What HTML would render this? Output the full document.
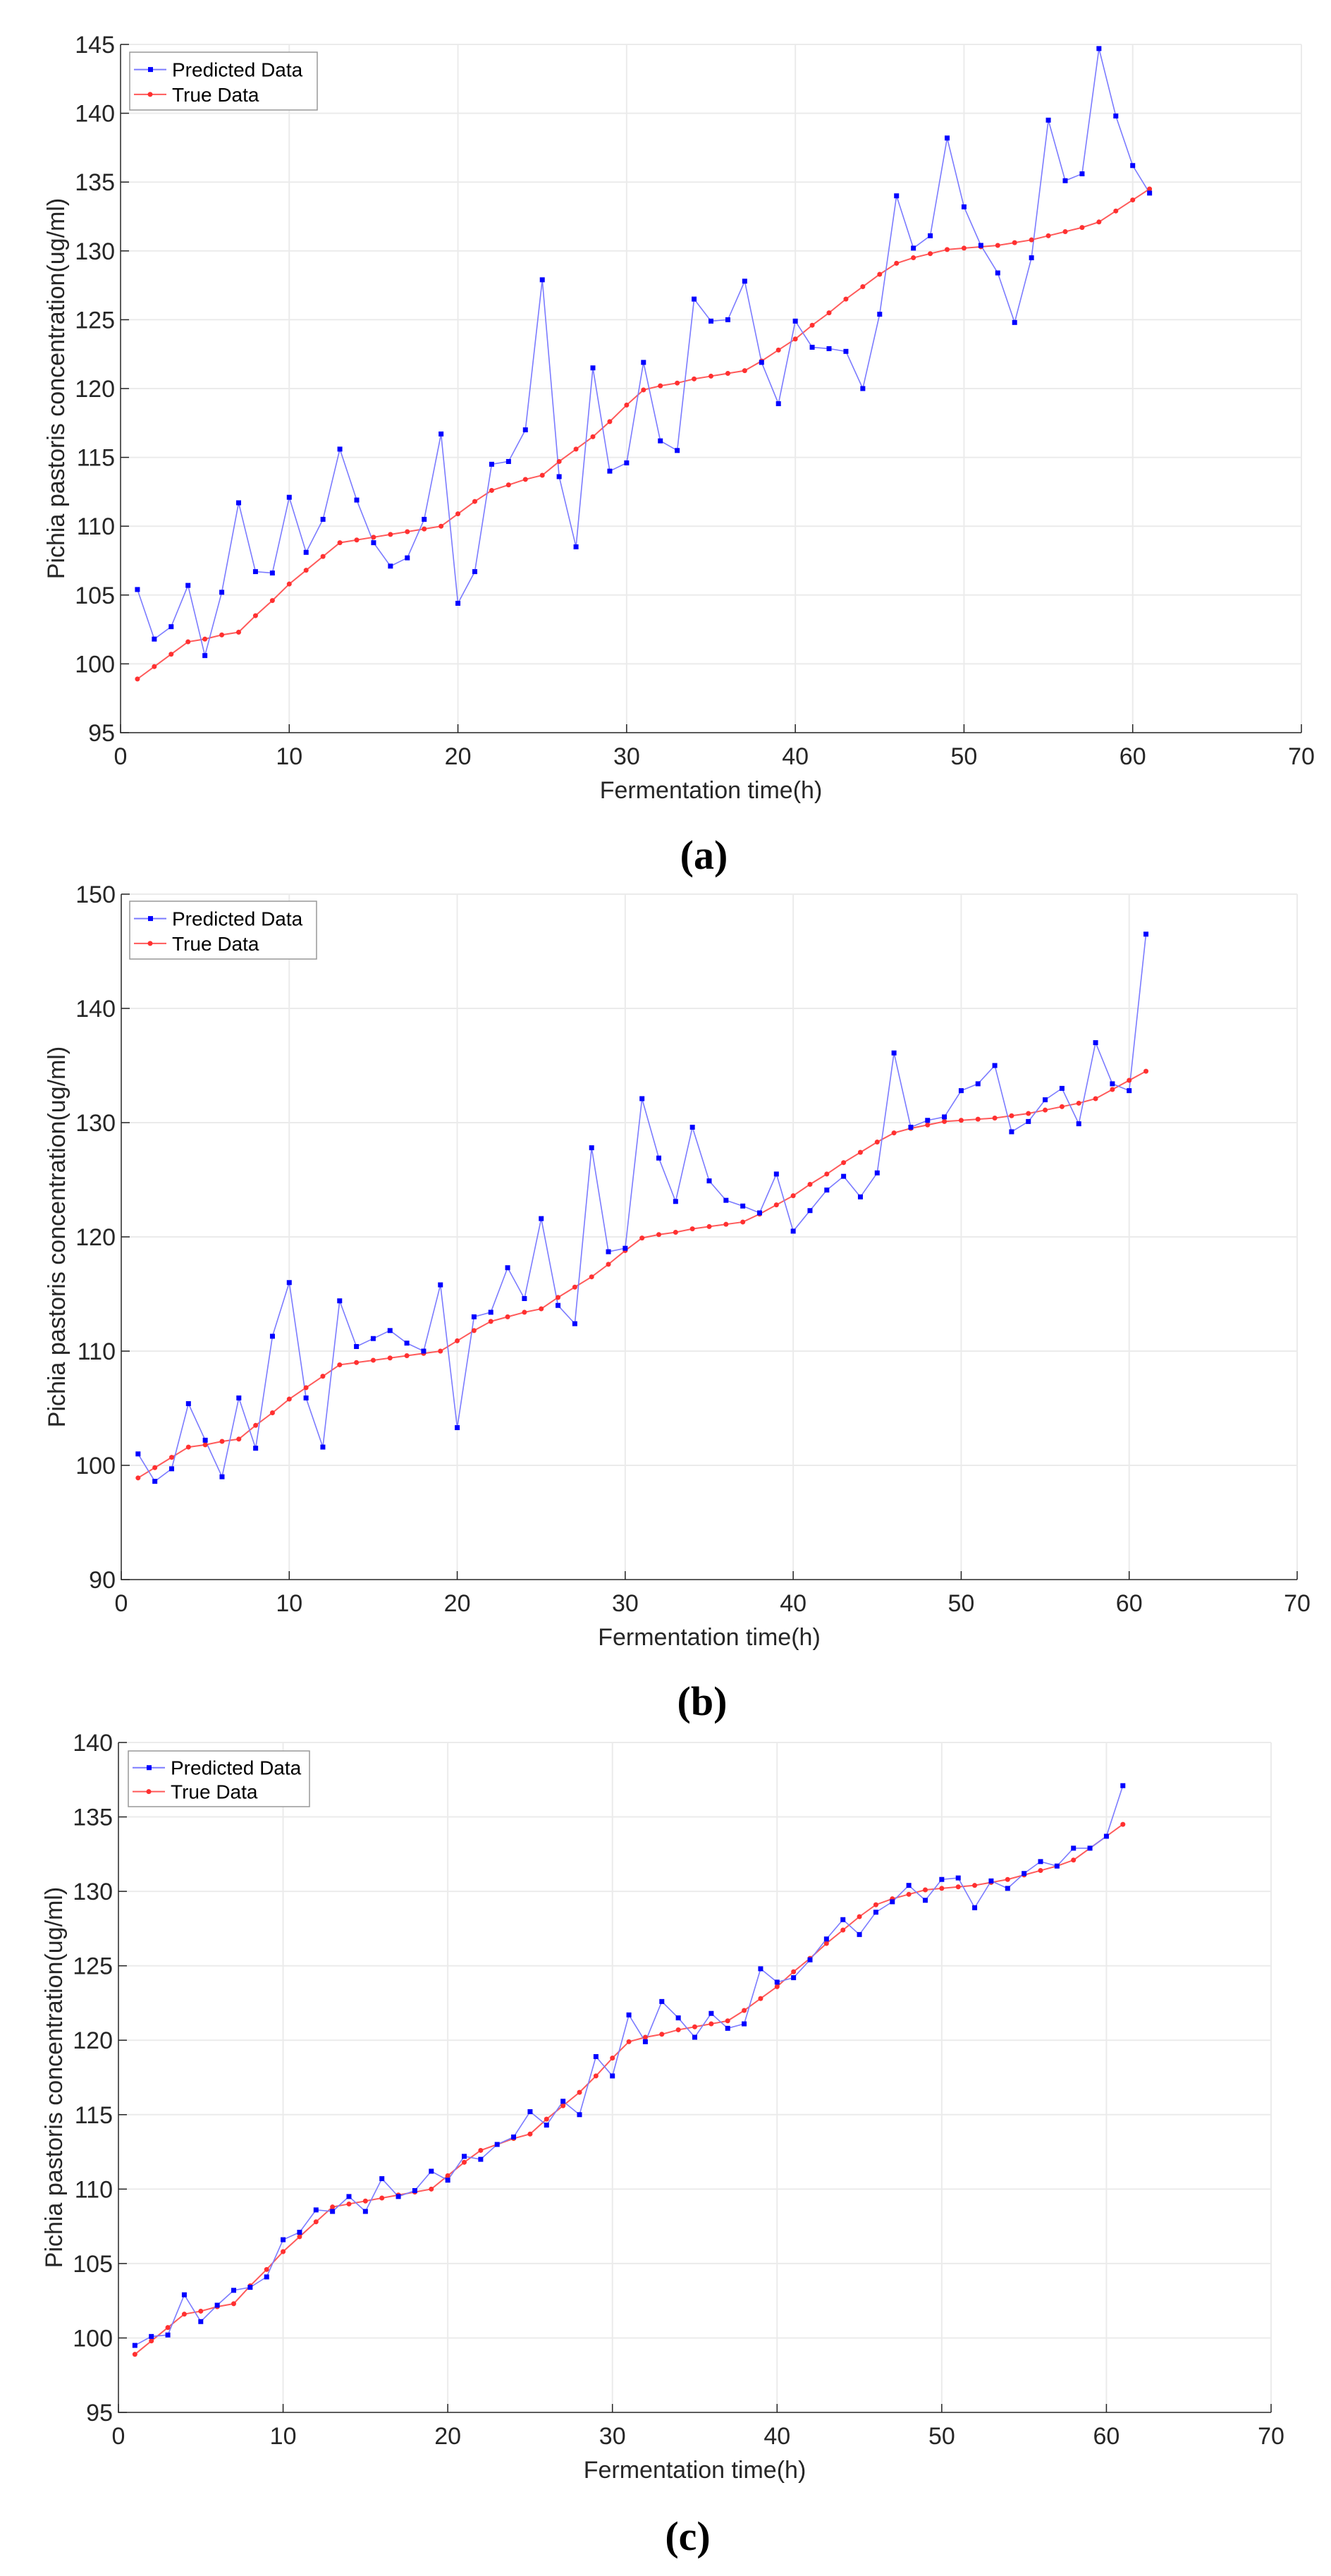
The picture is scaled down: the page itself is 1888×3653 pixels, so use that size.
<!DOCTYPE html>
<html><head><meta charset="utf-8">
<style>
html,body{margin:0;padding:0;background:#fff;}
svg{display:block;}
text{font-family:"Liberation Sans",sans-serif;}
.cap{font-family:"Liberation Serif",serif;font-weight:bold;}
</style></head>
<body>
<svg id="root" width="1888" height="3653" viewBox="0 0 1888 3653" xmlns="http://www.w3.org/2000/svg"></svg>
<script>
const xs = Array.from({length:61},(_,i)=>i+1);
const trueData = [98.9,99.8,100.7,101.6,101.8,102.1,102.3,103.5,104.6,105.8,106.8,107.8,108.8,109.0,109.2,109.4,109.6,109.8,110.0,110.9,111.8,112.6,113.0,113.4,113.7,114.7,115.6,116.5,117.6,118.8,119.9,120.2,120.4,120.7,120.9,121.1,121.3,122.0,122.8,123.6,124.6,125.5,126.5,127.4,128.3,129.1,129.5,129.8,130.1,130.2,130.3,130.4,130.6,130.8,131.1,131.4,131.7,132.1,132.9,133.7,134.5];
const predA = [105.4,101.8,102.7,105.7,100.6,105.2,111.7,106.7,106.6,112.1,108.1,110.5,115.6,111.9,108.8,107.1,107.7,110.5,116.7,104.4,106.7,114.5,114.7,117.0,127.9,113.6,108.5,121.5,114.0,114.6,121.9,116.2,115.5,126.5,124.9,125.0,127.8,121.9,118.9,124.9,123.0,122.9,122.7,120.0,125.4,134.0,130.2,131.1,138.2,133.2,130.4,128.4,124.8,129.5,139.5,135.1,135.6,144.7,139.8,136.2,134.2];
const predB = [101.0,98.6,99.7,105.4,102.2,99.0,105.9,101.5,111.3,116.0,105.9,101.6,114.4,110.4,111.1,111.8,110.7,110.0,115.8,103.3,113.0,113.4,117.3,114.6,121.6,114.0,112.4,127.8,118.7,119.0,132.1,126.9,123.1,129.6,124.9,123.2,122.7,122.1,125.5,120.5,122.3,124.1,125.3,123.5,125.6,136.1,129.6,130.2,130.5,132.8,133.4,135.0,129.2,130.1,132.0,133.0,129.9,137.0,133.4,132.8,146.5];
const predC = [99.5,100.1,100.2,102.9,101.1,102.2,103.2,103.4,104.1,106.6,107.1,108.6,108.5,109.5,108.5,110.7,109.5,109.9,111.2,110.6,112.2,112.0,113.0,113.5,115.2,114.3,115.9,115.0,118.9,117.6,121.7,119.9,122.6,121.5,120.2,121.8,120.8,121.1,124.8,123.9,124.2,125.4,126.8,128.1,127.1,128.6,129.3,130.4,129.4,130.8,130.9,128.9,130.7,130.2,131.2,132.0,131.7,132.9,132.9,133.7,137.1];
const xTicks = [0,10,20,30,40,50,60,70];
const yTicksA = [95,100,105,110,115,120,125,130,135,140,145];
const yTicksB = [90,100,110,120,130,140,150];
const yTicksC = [95,100,105,110,115,120,125,130,135,140];

const NS="http://www.w3.org/2000/svg";
const root=document.getElementById('root');
function mk(tag,attrs,parent){const e=document.createElementNS(NS,tag);for(const k in attrs)e.setAttribute(k,attrs[k]);(parent||root).appendChild(e);return e;}

function chart(id,L,R,T,B,yTicks,pred,leg,capY,capText){
  const g=mk('g',{});
  
  
  const ymin=yTicks[0],ymax=yTicks[yTicks.length-1];
  const X=v=>L+(v-0)/(70-0)*(R-L);
  const Y=v=>B-(v-ymin)/(ymax-ymin)*(B-T);
  // grid
  xTicks.forEach(t=>{ if(t>0){const l=mk('line',{x1:X(t),x2:X(t),y1:T,y2:B,stroke:'#ebebeb','stroke-width':2},g);}});
  yTicks.forEach(t=>{ if(t>ymin){const l=mk('line',{x1:L,x2:R,y1:Y(t),y2:Y(t),stroke:'#ebebeb','stroke-width':2},g);}});
  // axes
  const ax=mk('path',{d:`M${L},${T}V${B}H${R}`,fill:'none',stroke:'#262626','stroke-width':1.5},g);
  
  
  xTicks.forEach(t=>{
    mk('line',{x1:X(t),x2:X(t),y1:B,y2:B-12,stroke:'#262626','stroke-width':1.5},g);
    const tx=mk('text',{x:X(t),y:B+45,'font-size':34,'text-anchor':'middle',fill:'#262626'},g);
    tx.textContent=t;
    
    
  });
  yTicks.forEach(t=>{
    mk('line',{x1:L,x2:L+12,y1:Y(t),y2:Y(t),stroke:'#262626','stroke-width':1.5},g);
    const tx=mk('text',{x:L-8,y:Y(t)+12,'font-size':34,'text-anchor':'end',fill:'#262626'},g);
    tx.textContent=t;
    
    
  });
  const xl=mk('text',{x:(L+R)/2,y:B+93,'font-size':34,'text-anchor':'middle',fill:'#262626'},g);
  xl.textContent='Fermentation time(h)';
  
  
  const yc=(T+B)/2;
  const yl=mk('text',{x:0,y:0,'font-size':34,'text-anchor':'middle',fill:'#262626',transform:`translate(${L-80},${yc}) rotate(-90)`},g);
  yl.textContent='Pichia pastoris concentration(ug/ml)';
  
  
  // series
  const tp=xs.map((x,i)=>X(x)+','+Y(trueData[i])).join(' ');
  const tl=mk('polyline',{points:tp,fill:'none',stroke:'#ff5a5a','stroke-width':2},g);
  
  
  const pp=xs.map((x,i)=>X(x)+','+Y(pred[i])).join(' ');
  const pl=mk('polyline',{points:pp,fill:'none',stroke:'#7b7bff','stroke-width':1.6},g);
  
  
  xs.forEach((x,i)=>{
    const c=mk('circle',{cx:X(x),cy:Y(trueData[i]),r:3.5,fill:'#ff3030'},g);
    
    
  });
  xs.forEach((x,i)=>{
    const c=mk('rect',{x:X(x)-3.5,y:Y(pred[i])-3.5,width:7,height:7,fill:'#0000ff'},g);
    
    
  });
  // legend
  const [lx,ly,lw,lh]=leg;
  const lg=mk('g',{},g);
  
  
  mk('rect',{x:lx,y:ly,width:lw,height:lh,fill:'#fff',stroke:'#999','stroke-width':1.5},lg);
  const r1=ly+lh*0.3, r2=ly+lh*0.73;
  mk('line',{x1:lx+6,x2:lx+52,y1:r1,y2:r1,stroke:'#7b7bff','stroke-width':2},lg);
  mk('rect',{x:lx+26,y:r1-3.5,width:7,height:7,fill:'#0000ff'},lg);
  mk('line',{x1:lx+6,x2:lx+52,y1:r2,y2:r2,stroke:'#ff5a5a','stroke-width':2},lg);
  mk('circle',{cx:lx+29,cy:r2,r:3.5,fill:'#ff3030'},lg);
  const t1=mk('text',{x:lx+60,y:r1+10,'font-size':28,fill:'#000'},lg);
  t1.textContent='Predicted Data';
  
  
  const t2=mk('text',{x:lx+60,y:r2+10,'font-size':28,fill:'#000'},lg);
  t2.textContent='True Data';
  
  
  const cp=mk('text',{x:(L+R)/2-10,y:capY,'font-size':58,'text-anchor':'middle',fill:'#000',class:'cap'},g);
  cp.textContent=capText;
  
  
}
chart('a',171,1846,63,1039,yTicksA,predA,[184,74,266,82],1232,'(a)');
chart('b',172,1840,1268,2240,yTicksB,predB,[184,1278,265,82],2432,'(b)');
chart('c',168,1803,2471,3421,yTicksC,predC,[182,2483,257,79],3616,'(c)');
</script>
</body></html>
